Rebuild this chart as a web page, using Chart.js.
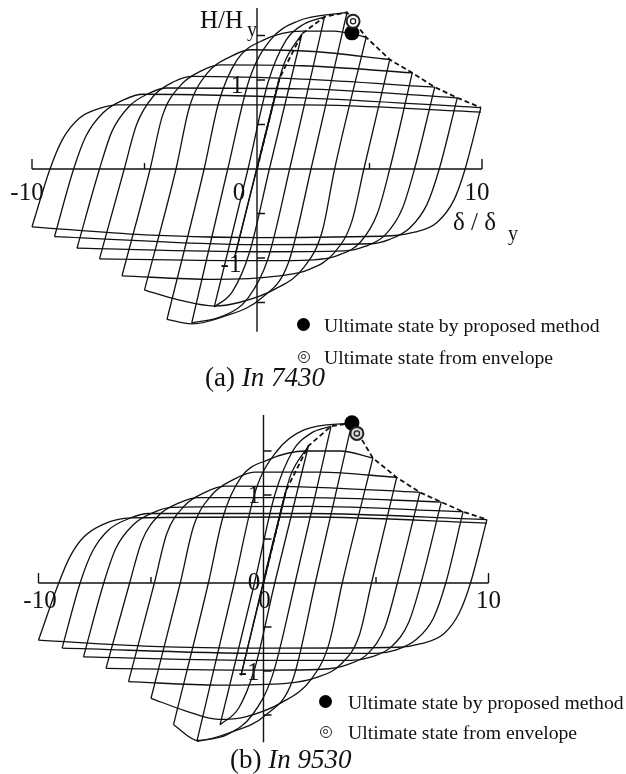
<!DOCTYPE html>
<html>
<head>
<meta charset="utf-8">
<script src="https://cdn.jsdelivr.net/npm/chart.js@4.4.1/dist/chart.umd.min.js"></script>
<style>
  html, body { margin: 0; padding: 0; background: #fff; }
  #wrap { position: relative; width: 626px; height: 774px; overflow: hidden;
          font-family: "Liberation Serif", "Times New Roman", serif; color: #111; }
  canvas { position: absolute; left: 0; }
  .leg { position: absolute; font-size: 19.7px; line-height: 20px; white-space: nowrap; }
  .dot { position: absolute; width: 13px; height: 13px; border-radius: 50%; background: #000; }
  .ring { position: absolute; box-sizing: border-box; width: 12px; height: 12px; border-radius: 50%;
          border: 1.8px solid #222; background: #fff; }
  .ring::after { content: ''; position: absolute; box-sizing: border-box; left: 2px; top: 2px;
          width: 4.5px; height: 4.5px; border-radius: 50%; border: 1.3px solid #222; }
  .cap { position: absolute; font-size: 27px; line-height: 30px; white-space: nowrap; }
</style>
</head>
<body>
<div id="wrap">
  <canvas id="chartA" width="626" height="390" style="top:0"></canvas>
  <canvas id="chartB" width="626" height="379" style="top:395px"></canvas>

  <div class="dot" style="left:297px;top:318px"></div>
  <div class="leg" style="left:324px;top:315px">Ultimate state by proposed method</div>
  <div class="ring" style="left:298px;top:351px"></div>
  <div class="leg" style="left:324px;top:347px">Ultimate state from envelope</div>
  <div class="cap" style="left:205px;top:362px">(a) <i>In 7430</i></div>

  <div class="dot" style="left:319px;top:695px"></div>
  <div class="leg" style="left:348px;top:692px">Ultimate state by proposed method</div>
  <div class="ring" style="left:320px;top:726px"></div>
  <div class="leg" style="left:348px;top:722px">Ultimate state from envelope</div>
  <div class="cap" style="left:230px;top:744px">(b) <i>In 9530</i></div>
</div>

<script>
// axis ticks shared by both panels
const xTicks = [-10, -5, 5, 10];
const yTicks = [-1.5, -1, -0.5, 0.5, 1, 1.5];

// ---- In 7430: load path, one branch per reversal (delta/delta_y, H/H_y)
const branchesA = [
  [[0, 0], [1, 1.02]],
  [[1, 1.02], [-1, -1.0]],
  [[-1, -1.0], [0.6, 0.62], [1.2, 1.18], [2, 1.52]],
  [[2, 1.52], [0.55, 0], [-0.35, -0.95], [-1.1, -1.38], [-1.9, -1.55]],
  [[-1.9, -1.55], [-0.4, 0], [0.5, 0.98], [1.3, 1.45], [2.1, 1.63], [3, 1.71]],
  [[3, 1.71], [1.45, 0], [0.5, -1.0], [-0.4, -1.45], [-1.5, -1.65], [-2.9, -1.73]],
  [[-2.9, -1.73], [-1.3, 0], [-0.35, 1.0], [0.6, 1.45], [1.8, 1.66], [4, 1.76]],
  [[4, 1.76], [2.4, 0], [1.4, -1.05], [0.2, -1.45], [-1.5, -1.66], [-2.9, -1.74], [-4, -1.69]],
  [[-4, -1.69], [-2.35, 0], [-1.7, 0.75], [-0.9, 1.22], [0.3, 1.45], [2, 1.55], [3.4, 1.55], [4.85, 1.48]],
  [[4.85, 1.48], [3.45, 0], [2.9, -0.7], [2.1, -1.1], [0.8, -1.35], [-0.8, -1.5], [-1.9, -1.54], [-3.5, -1.47], [-5, -1.36]],
  [[-5, -1.36], [-3.6, 0], [-3.0, 0.7], [-2.2, 1.08], [-1.2, 1.26], [-0.3, 1.34], [2.5, 1.32], [5.9, 1.23]],
  [[5.9, 1.23], [4.75, 0], [4.2, -0.6], [3.4, -0.95], [2.3, -1.13], [1, -1.2], [-2, -1.24], [-6, -1.2]],
  [[-6, -1.2], [-4.75, 0], [-4.2, 0.6], [-3.4, 0.94], [-2.5, 1.1], [-1.64, 1.17], [2, 1.16], [6.9, 1.08]],
  [[6.9, 1.08], [5.9, 0], [5.35, -0.5], [4.6, -0.82], [3.6, -0.97], [2.5, -1.02], [0, -1.03], [-7, -1.01]],
  [[-7, -1.01], [-5.9, 0], [-5.35, 0.5], [-4.6, 0.82], [-3.7, 0.98], [-2.84, 1.04], [2, 1.01], [7.9, 0.92]],
  [[7.9, 0.92], [7.0, 0], [6.45, -0.45], [5.7, -0.74], [4.8, -0.87], [3.9, -0.92], [0, -0.93], [-8, -0.89]],
  [[-8, -0.89], [-7.0, 0], [-6.45, 0.42], [-5.7, 0.7], [-4.8, 0.85], [-4.0, 0.91], [2, 0.9], [8.9, 0.8]],
  [[8.9, 0.8], [8.1, 0], [7.55, -0.4], [6.8, -0.66], [5.9, -0.79], [5.0, -0.84], [0, -0.85], [-9, -0.76]],
  [[-9, -0.76], [-8.15, 0], [-7.6, 0.37], [-6.85, 0.63], [-5.9, 0.78], [-5.07, 0.84], [2, 0.8], [9.95, 0.69]],
  [[9.95, 0.69], [9.25, 0], [8.75, -0.35], [8.0, -0.6], [7.0, -0.71], [6.0, -0.75], [0, -0.77], [-5, -0.74], [-10, -0.65]],
  [[-10, -0.65], [-9.2, 0], [-8.65, 0.33], [-7.9, 0.57], [-7.0, 0.68], [-6.2, 0.72], [2, 0.72], [9.95, 0.64]]
];
const envelopeA = [[0, 0], [1, 1.02], [2, 1.52], [3, 1.71], [4, 1.76], [4.85, 1.48], [5.9, 1.23],
                   [6.9, 1.08], [7.9, 0.92], [8.9, 0.8], [9.95, 0.69]];
const proposedA = [4.22, 1.53];
const fromEnvelopeA = [4.27, 1.66];

// ---- In 9530
const branchesB = [
  [[0, 0], [1, 1.05]],
  [[1, 1.05], [-1, -1.05]],
  [[-1, -1.05], [0.6, 0.65], [1.2, 1.22], [2, 1.56]],
  [[2, 1.56], [0.5, 0], [-0.4, -0.98], [-1.1, -1.42], [-1.93, -1.61]],
  [[-1.93, -1.61], [-0.4, 0], [0.5, 1.0], [1.3, 1.5], [2.1, 1.7], [3, 1.78]],
  [[3, 1.78], [1.4, 0], [0.4, -1.05], [-0.5, -1.5], [-1.6, -1.72], [-2.96, -1.8]],
  [[-2.96, -1.8], [-1.3, 0], [-0.35, 1.05], [0.6, 1.5], [1.8, 1.74], [3.93, 1.82]],
  [[3.93, 1.82], [2.3, 0], [1.3, -1.1], [0.1, -1.5], [-1.5, -1.7], [-2.9, -1.79], [-4, -1.61]],
  [[-4, -1.61], [-2.45, 0], [-1.8, 0.75], [-1.0, 1.2], [0.2, 1.4], [1.9, 1.5], [3.4, 1.5], [4.86, 1.42]],
  [[4.86, 1.42], [3.5, 0], [2.9, -0.7], [2.1, -1.1], [0.8, -1.36], [-0.8, -1.52], [-2, -1.55], [-3.5, -1.45], [-5, -1.31]],
  [[-5, -1.31], [-3.7, 0], [-3.1, 0.65], [-2.3, 1.0], [-1.3, 1.18], [-0.4, 1.26], [2.5, 1.26], [5.92, 1.2]],
  [[5.92, 1.2], [4.8, 0], [4.25, -0.6], [3.45, -0.92], [2.4, -1.07], [1, -1.14], [-2, -1.16], [-6, -1.12]],
  [[-6, -1.12], [-4.85, 0], [-4.3, 0.56], [-3.5, 0.88], [-2.6, 1.03], [-1.7, 1.1], [2, 1.09], [6.95, 1.03]],
  [[6.95, 1.03], [5.95, 0], [5.4, -0.5], [4.65, -0.8], [3.7, -0.93], [2.6, -0.98], [0, -0.99], [-7, -0.97]],
  [[-7, -0.97], [-5.95, 0], [-5.4, 0.48], [-4.65, 0.77], [-3.75, 0.91], [-2.9, 0.97], [2, 0.97], [7.9, 0.92]],
  [[7.9, 0.92], [7.0, 0], [6.45, -0.45], [5.7, -0.72], [4.8, -0.84], [3.9, -0.88], [0, -0.88], [-8, -0.84]],
  [[-8, -0.84], [-7.1, 0], [-6.55, 0.4], [-5.8, 0.66], [-4.9, 0.8], [-4.1, 0.86], [2, 0.87], [8.87, 0.81]],
  [[8.87, 0.81], [8.1, 0], [7.55, -0.4], [6.8, -0.64], [5.9, -0.76], [5.0, -0.8], [0, -0.8], [-8.95, -0.74]],
  [[-8.95, -0.74], [-8.15, 0], [-7.6, 0.36], [-6.9, 0.6], [-6.0, 0.73], [-5.1, 0.79], [2, 0.79], [9.93, 0.72]],
  [[9.93, 0.72], [9.2, 0], [8.7, -0.34], [8.0, -0.58], [7.0, -0.69], [6.0, -0.73], [0, -0.74], [-5, -0.72], [-10, -0.65]],
  [[-10, -0.65], [-9.1, 0], [-8.6, 0.3], [-8.0, 0.52], [-7.1, 0.67], [-5.9, 0.74], [2, 0.75], [9.93, 0.68]]
];
const envelopeB = [[0, 0], [1, 1.05], [2, 1.56], [3, 1.78], [3.93, 1.82], [4.86, 1.42], [5.92, 1.2],
                   [6.95, 1.03], [7.9, 0.92], [8.87, 0.81], [9.93, 0.72]];
const proposedB = [3.93, 1.82];
const fromEnvelopeB = [4.15, 1.7];

const FONT = '"Liberation Serif", "Times New Roman", serif';
const pts = arr => arr.map(([x, y]) => ({ x, y }));

// draws the crossing axes, tick marks and labels from the chart's own scales
function crossAxes(spec) {
  return {
    id: 'crossAxes',
    beforeDatasetsDraw(chart) {
      const { ctx, scales: { x, y } } = chart;
      const x0 = x.getPixelForValue(0), y0 = y.getPixelForValue(0);
      ctx.save();
      ctx.strokeStyle = '#111';
      ctx.lineWidth = 1.4;
      ctx.beginPath();
      ctx.moveTo(x.getPixelForValue(-10), y0);
      ctx.lineTo(x.getPixelForValue(10), y0);
      ctx.moveTo(x0, y.getPixelForValue(spec.yTop));
      ctx.lineTo(x0, y.getPixelForValue(spec.yBottom));
      xTicks.forEach(v => {
        const px = x.getPixelForValue(v);
        ctx.moveTo(px, y0);
        ctx.lineTo(px, y0 - (Math.abs(v) === 10 ? 10 : 6));
      });
      yTicks.forEach(v => {
        const py = y.getPixelForValue(v);
        ctx.moveTo(x0, py);
        ctx.lineTo(x0 + 8, py);
      });
      ctx.stroke();
      ctx.restore();
    },
    afterDatasetsDraw(chart) {
      const { ctx, scales: { x, y } } = chart;
      ctx.save();
      ctx.fillStyle = '#111';
      ctx.textBaseline = 'alphabetic';
      spec.labels.forEach(l => {
        ctx.font = (l.size || 25) + 'px ' + FONT;
        ctx.textAlign = l.align || 'center';
        ctx.fillText(l.text, x.getPixelForValue(l.at[0]) + l.dx, y.getPixelForValue(l.at[1]) + l.dy);
      });
      ctx.restore();
    }
  };
}

function makeChart(id, branches, envelope, proposed, fromEnv, frame, spec) {
  const W = 626, H = frame.height;
  const datasets = [
    { data: pts([fromEnv]), pointRadius: 2.6, borderWidth: 1.3, borderColor: '#222',
      backgroundColor: spec.ringFill, order: -3 },
    { data: pts([fromEnv]), pointRadius: 6.5, borderWidth: 2, borderColor: '#222',
      backgroundColor: spec.ringFill, order: -2 },
    { data: pts([proposed]), pointRadius: 7.5, borderWidth: 0, backgroundColor: '#000', order: -1 },
    { data: pts(envelope), showLine: true, borderColor: '#111', borderWidth: 1.8,
      borderDash: [5, 3], pointRadius: 0, order: 0 }
  ];
  branches.forEach(b => datasets.push({
    data: pts(b), showLine: true, borderColor: '#111', borderWidth: 1.3,
    pointRadius: 0, cubicInterpolationMode: 'monotone', order: 1
  }));
  return new Chart(document.getElementById(id), {
    type: 'scatter',
    data: { datasets },
    options: {
      responsive: false,
      animation: false,
      events: [],
      layout: { padding: 0, autoPadding: false },
      plugins: { legend: { display: false }, tooltip: { enabled: false } },
      scales: {
        x: { type: 'linear', display: false,
             min: -frame.ox / frame.sx, max: (W - frame.ox) / frame.sx },
        y: { type: 'linear', display: false,
             min: -(H - frame.oy) / frame.sy, max: frame.oy / frame.sy }
      }
    },
    plugins: [crossAxes(spec)]
  });
}

makeChart('chartA', branchesA, envelopeA, proposedA, fromEnvelopeA,
  { height: 390, ox: 257, oy: 169, sx: 22.5, sy: 89 },
  {
    yTop: 1.81, yBottom: -1.83, ringFill: '#fff',
    labels: [
      { text: '-10', at: [-10, 0], dx: -5, dy: 31 },
      { text: '0', at: [0, 0], dx: -18, dy: 31 },
      { text: '10', at: [10, 0], dx: -5, dy: 31 },
      { text: '1', at: [0, 1], dx: -20, dy: 13 },
      { text: '-1', at: [0, -1], dx: -26, dy: 14 },
      { text: 'H/H', at: [0, 0], dx: -57, dy: -141, align: 'left' },
      { text: 'y', at: [0, 0], dx: -10, dy: -133, align: 'left', size: 20 },
      { text: '\u03B4 / \u03B4', at: [10, 0], dx: -29, dy: 61, align: 'left' },
      { text: 'y', at: [10, 0], dx: 26, dy: 71, align: 'left', size: 20 }
    ]
  });

makeChart('chartB', branchesB, envelopeB, proposedB, fromEnvelopeB,
  { height: 379, ox: 263.5, oy: 188, sx: 22.5, sy: 88 },
  {
    yTop: 1.91, yBottom: -1.81, ringFill: '#d8d8d8',
    labels: [
      { text: '-10', at: [-10, 0], dx: 1.5, dy: 25 },
      { text: '0', at: [0, 0], dx: -9.5, dy: 7 },
      { text: '0', at: [0, 0], dx: 1, dy: 25 },
      { text: '10', at: [10, 0], dx: 0, dy: 25 },
      { text: '1', at: [0, 1], dx: -9.5, dy: 8 },
      { text: '-1', at: [0, -1], dx: -14.5, dy: 9 }
    ]
  });
</script>
</body>
</html>
